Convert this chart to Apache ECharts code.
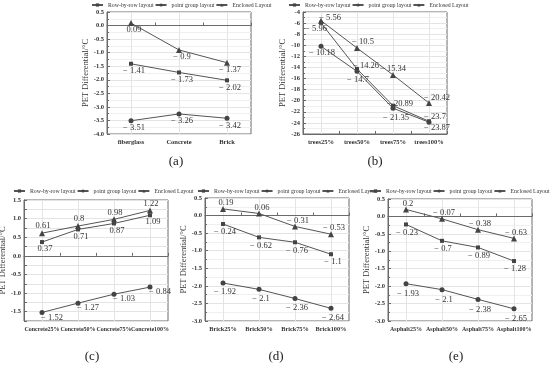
<!DOCTYPE html>
<html><head><meta charset="utf-8">
<script src="https://cdn.jsdelivr.net/npm/echarts@6/dist/echarts.min.js"></script>
<style>html,body{margin:0;padding:0;background:#fff}#c{width:550px;height:370px}</style>
</head><body><div id="c"></div>
<script>
// ---- data ----
const seriesNames = ['Row-by-row layout', 'point group layout', 'Enclosed Layout'];

const catsA = ['fiberglass', 'Concrete', 'Brick'];
const rowA = [-1.41, -1.73, -2.02];
const pointA = [-3.51, -3.26, -3.42];
const enclA = [0.09, -0.9, -1.37];

const catsB = ['trees25%', 'trees50%', 'trees75%', 'trees100%'];
const rowB = [-5.96, -14.26, -20.89, -23.7];
const pointB = [-10.18, -14.7, -21.35, -23.87];
const enclB = [-5.56, -10.5, -15.34, -20.42];

const catsC = ['Concrete25%', 'Concrete50%', 'Concrete75%', 'Concrete100%'];
const rowC = [0.37, 0.71, 0.87, 1.09];
const pointC = [-1.52, -1.27, -1.03, -0.84];
const enclC = [0.61, 0.8, 0.98, 1.22];

const catsD = ['Brick25%', 'Brick50%', 'Brick75%', 'Brick100%'];
const rowD = [-0.24, -0.62, -0.76, -1.1];
const pointD = [-1.92, -2.1, -2.36, -2.64];
const enclD = [0.19, 0.06, -0.31, -0.53];

const catsE = ['Asphalt25%', 'Asphalt50%', 'Asphalt75%', 'Asphalt100%'];
const rowE = [-0.23, -0.7, -0.89, -1.28];
const pointE = [-1.93, -2.1, -2.38, -2.65];
const enclE = [0.2, -0.07, -0.38, -0.63];

const panelTags = ['(a)', '(b)', '(c)', '(d)', '(e)'];
const yAxisName = 'PET Differential/°C';

// ---- layout / style ----
const FONT = '"Liberation Serif", "Times New Roman", serif';
const INK = '#333';
const AX = '#6a6a6a';
const symbols = ['rect', 'circle', 'triangle'];
const symSizes = [4, 5, 6];

const panels = [
  { cats: catsA, vals: [rowA, pointA, enclA],
    grid: { left: 107, top: 12, width: 144, height: 122 },
    y: { min: -4, max: 0.5, interval: 0.5, minor: true }, nameGap: 15, xFont: 6.5,
    legend: { left: 91, top: 2 }, tagPos: [176, 162],
    offs: (s, i) => [3, 7] },
  { cats: catsB, vals: [rowB, pointB, enclB],
    grid: { left: 303, top: 12, width: 144, height: 122 },
    y: { min: -26, max: -4, interval: 2, minor: true, int: true }, nameGap: 13, xFont: 6.5,
    legend: { left: 288, top: 2 }, tagPos: [375, 162],
    offs: (s, i) => ([
      [[-5, 6], [9, -3], [7, -2], [6, -4]],
      [[1, 6], [1, 8], [3, 10], [8, 6]],
      [[9, -3], [6, -6], [0, -6], [8, -5]]
    ])[s][i] },
  { cats: catsC, vals: [rowC, pointC, enclC],
    grid: { left: 24, top: 200, width: 144, height: 121 },
    y: { min: -1.75, max: 1.5, interval: 0.25, minor: false, half: true }, nameGap: 12, xFont: 6,
    legend: { left: 13, top: 188 }, tagPos: [92, 357],
    offs: (s, i) => [[3, 7], [10, 5], [1, -7]][s] },
  { cats: catsD, vals: [rowD, pointD, enclD],
    grid: { left: 205, top: 198, width: 144, height: 123 },
    y: { min: -3, max: 0.5, interval: 0.5, minor: true }, nameGap: 13, xFont: 6.3,
    legend: { left: 197, top: 188 }, tagPos: [276, 357],
    offs: (s, i) => [[2, 8], [2, 9], [3, -6]][s] },
  { cats: catsE, vals: [rowE, pointE, enclE],
    grid: { left: 388, top: 199, width: 144, height: 122 },
    y: { min: -3, max: 0.5, interval: 0.5, minor: true }, nameGap: 14, xFont: 6,
    legend: { left: 369, top: 188 }, tagPos: [456, 357],
    offs: (s, i) => [[1, 8], [2, 10], [2, -6]][s] }
];

const fmtVal = v => v < 0 ? '\u2212 ' + String(Math.abs(v)) : String(v);

const grid = [], xAxis = [], yAxis = [], series = [], legend = [], graphic = [];

panels.forEach((p, k) => {
  grid.push(Object.assign({ show: true, borderColor: AX, borderWidth: 1, backgroundColor: 'transparent', containLabel: false, outerBoundsMode: 'none' }, p.grid));
  xAxis.push({
    type: 'category', gridIndex: k, data: p.cats, boundaryGap: true,
    axisLine: { lineStyle: { color: AX, width: 1 } },
    axisTick: { show: true, inside: true, length: 3, lineStyle: { color: AX } },
    axisLabel: { interval: 0, hideOverlap: false, fontFamily: FONT, fontWeight: 'bold', fontSize: p.xFont, color: INK, margin: 5 },
    splitLine: { show: true, alignWithLabel: true, lineStyle: { color: '#e4e4e4', width: 1 } }
  });
  yAxis.push({
    type: 'value', gridIndex: k, min: p.y.min, max: p.y.max, interval: p.y.interval,
    name: yAxisName, nameLocation: 'middle', nameGap: p.nameGap,
    nameTextStyle: { fontFamily: FONT, fontSize: 8.5, color: INK },
    axisLine: { show: true, lineStyle: { color: AX, width: 1 } },
    axisTick: { show: true, inside: true, length: 3, lineStyle: { color: AX } },
    minorTick: { show: p.y.minor, splitNumber: 2, length: 2, lineStyle: { color: AX } },
    minorSplitLine: { show: p.y.minor, lineStyle: { color: '#efefef', width: 1 } },
    splitLine: { show: true, lineStyle: { color: '#e4e4e4', width: 1 } },
    axisLabel: {
      fontFamily: FONT, fontWeight: 'bold', fontSize: 6.5, color: INK, margin: 3,
      formatter: v => {
        if (p.y.int) return String(Math.round(v));
        if (p.y.half && Math.abs(Math.round(v * 2) - v * 2) > 1e-6) return '';
        return (Math.abs(v) < 1e-9 ? 0 : v).toFixed(1);
      }
    }
  });
  p.vals.forEach((arr, s) => {
    series.push({
      type: 'line', name: seriesNames[s], xAxisIndex: k, yAxisIndex: k,
      symbol: symbols[s], symbolSize: symSizes[s],
      lineStyle: { color: '#555', width: 1 },
      itemStyle: { color: '#444' },
      emphasis: { disabled: true },
      data: arr.map((v, i) => ({
        value: v,
        label: { show: true, position: 'inside', offset: p.offs(s, i), formatter: () => fmtVal(v),
                 fontFamily: FONT, fontSize: 8.5, color: INK }
      })),
      z: 3
    });
  });
  legend.push({
    left: p.legend.left, top: p.legend.top, width: 200, orient: 'horizontal',
    data: seriesNames, itemWidth: 11, itemHeight: 4, itemGap: 1, padding: 0,
    textStyle: { fontFamily: FONT, fontSize: 5.8, color: INK },
    selectedMode: false
  });
  graphic.push({
    type: 'text', x: p.tagPos[0], y: p.tagPos[1],
    style: { text: panelTags[k], font: '13px ' + FONT, fill: '#222', textAlign: 'center', textVerticalAlign: 'middle' }
  });
});

const chart = echarts.init(document.getElementById('c'), null, { renderer: 'canvas' });
chart.setOption({
  animation: false,
  backgroundColor: '#fff',
  grid, xAxis, yAxis, series, legend, graphic
});
</script>
</body></html>
